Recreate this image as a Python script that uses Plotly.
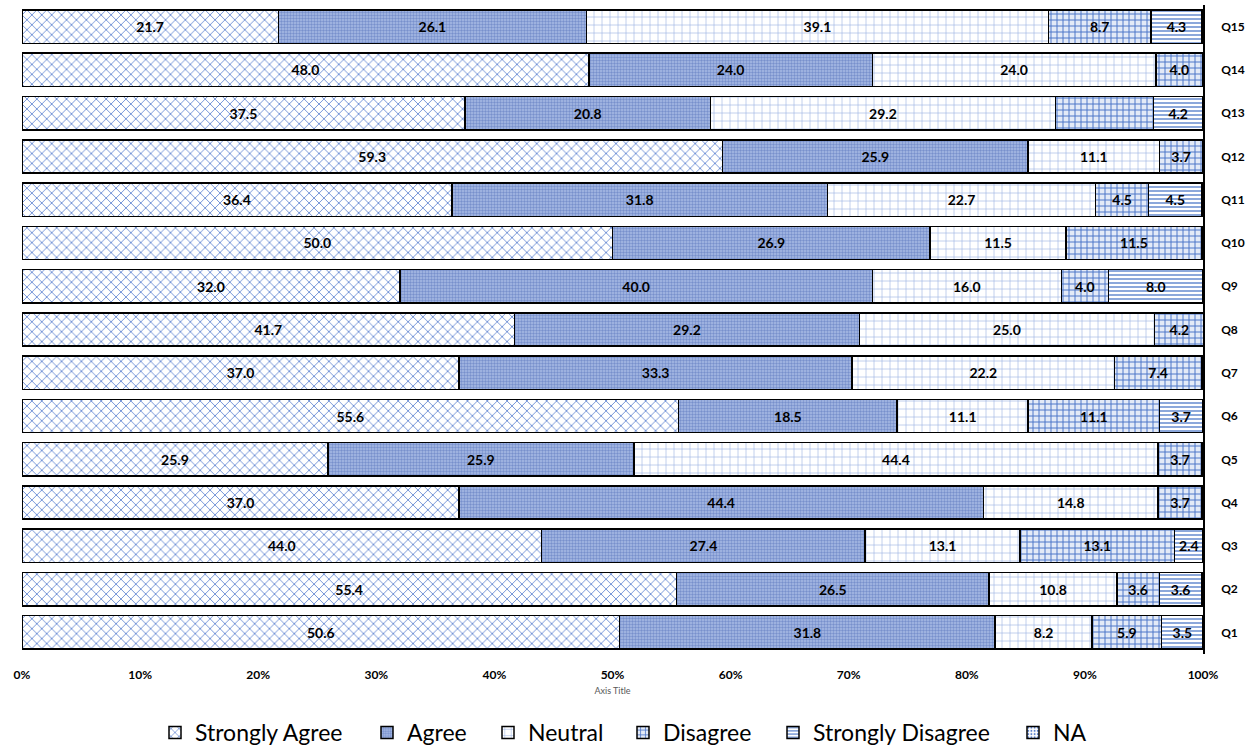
import plotly.graph_objects as go

questions = ["Q1", "Q2", "Q3", "Q4", "Q5", "Q6", "Q7", "Q8",
             "Q9", "Q10", "Q11", "Q12", "Q13", "Q14", "Q15"]

strongly_agree = [50.6, 55.4, 44.0, 37.0, 25.9, 55.6, 37.0, 41.7, 32.0, 50.0, 36.4, 59.3, 37.5, 48.0, 21.7]
agree = [31.8, 26.5, 27.4, 44.4, 25.9, 18.5, 33.3, 29.2, 40.0, 26.9, 31.8, 25.9, 20.8, 24.0, 26.1]
neutral = [8.2, 10.8, 13.1, 14.8, 44.4, 11.1, 22.2, 25.0, 16.0, 11.5, 22.7, 11.1, 29.2, 24.0, 39.1]
disagree = [5.9, 3.6, 13.1, 3.7, 3.7, 11.1, 7.4, 4.2, 4.0, 11.5, 4.5, 3.7, 8.3, 4.0, 8.7]
strongly_disagree = [3.5, 3.6, 2.4, 0, 0, 3.7, 0, 0, 8.0, 0, 4.5, 0, 4.2, 0, 4.3]
na = [0] * 15

# Segments whose data label is not printed on the chart
hidden_labels = {("Disagree", "Q13")}

series = [
    ("Strongly Agree", strongly_agree, dict(shape="x", bgcolor="white", fgcolor="#5a7fd0", size=7, solidity=0.22)),
    ("Agree", agree, dict(shape=".", bgcolor="#a9bce6", fgcolor="#7890cc", size=3, solidity=0.5)),
    ("Neutral", neutral, dict(shape="+", bgcolor="white", fgcolor="#93abe0", size=8, solidity=0.14)),
    ("Disagree", disagree, dict(shape="+", bgcolor="#e3eaf7", fgcolor="#4a74c8", size=6, solidity=0.3)),
    ("Strongly Disagree", strongly_disagree, dict(shape="-", bgcolor="white", fgcolor="#5b82cc", size=4, solidity=0.35)),
    ("NA", na, dict(shape=".", bgcolor="white", fgcolor="#5b82cc", size=4, solidity=0.3)),
]

# Each legend entry gets its own legend box so the entries can be spread out
legend_ids = ["legend", "legend2", "legend3", "legend4", "legend5", "legend6"]
legend_x = [155, 367, 488, 623, 773, 1013]

fig = go.Figure()
for (name, vals, pat), lid in zip(series, legend_ids):
    texts = []
    for q, v in zip(questions, vals):
        if v == 0 or (name, q) in hidden_labels:
            texts.append("")
        else:
            texts.append(f"{v:.1f}")
    fig.add_trace(go.Bar(
        name=name,
        legend=lid,
        y=questions,
        x=vals,
        orientation="h",
        text=texts,
        textposition="inside",
        insidetextanchor="middle",
        textangle=0,
        textfont=dict(size=14, color="black", family="Lato", weight="bold"),
        marker=dict(
            color=pat["bgcolor"],
            line=dict(color="black", width=1.5),
            pattern=dict(shape=pat["shape"], bgcolor=pat["bgcolor"], fgcolor=pat["fgcolor"],
                         size=pat["size"], solidity=pat["solidity"], fillmode="replace"),
        ),
        hoverinfo="x+y+name",
    ))

W, H = 1250, 749
legend_style = dict(
    orientation="h",
    xref="container", yref="container",
    xanchor="left", yanchor="middle",
    y=0.022,
    font=dict(size=23, family="Lato"),
    itemwidth=30,
    bgcolor="rgba(0,0,0,0)",
)
legends = {lid: dict(legend_style, x=lx / W) for lid, lx in zip(legend_ids, legend_x)}

fig.update_layout(
    barmode="stack",
    bargap=0.23,
    width=W,
    height=H,
    margin=dict(l=22, r=47, t=5, b=95),
    plot_bgcolor="white",
    paper_bgcolor="white",
    font=dict(family="Lato", color="black"),
    uniformtext=dict(minsize=14, mode="show"),
    showlegend=True,
    xaxis=dict(
        range=[0, 100],
        dtick=10,
        ticksuffix="%",
        showgrid=False,
        zeroline=False,
        showline=False,
        ticks="",
        ticklabelstandoff=12,
        tickfont=dict(size=12, family="Lato", weight="bold"),
        title=dict(text="Axis Title", font=dict(size=9, color="#595959"), standoff=6),
    ),
    yaxis=dict(
        side="right",
        categoryorder="array",
        categoryarray=questions,
        showgrid=False,
        zeroline=False,
        showline=True,
        linecolor="black",
        linewidth=1.5,
        ticks="",
        ticklabelstandoff=14,
        tickfont=dict(size=12, family="Lato", weight="bold"),
    ),
    **legends,
)

fig.write_html("out.html")
